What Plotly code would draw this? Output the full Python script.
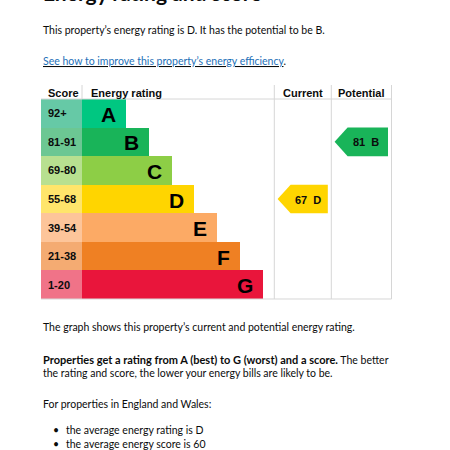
import plotly.graph_objects as go

# ---- data ----
bands = ["A", "B", "C", "D", "E", "F", "G"]
score_ranges = ["92+", "81-91", "69-80", "55-68", "39-54", "21-38", "1-20"]
band_colors = ["#00c781", "#19b459", "#8dce46", "#ffd500", "#fcaa65", "#ef8023", "#e9153b"]
score_tints = ["#66c9a6", "#6cc793", "#b8e090", "#ffe56b", "#fdc59a", "#f4ab72", "#f07388"]
bar_lengths = [44, 67, 90, 112, 135, 158, 181]
current_score = 67
current_band = "D"
potential_score = 81
potential_band = "B"
columns = ["Score", "Energy rating", "Current", "Potential"]

# ---- layout geometry (pixel space) ----
W = H = 450
tbl_left = 41
score_right = 82
head_top = 85
head_bot = 99
row_h = 28.57
cur_l, cur_r = 274.3, 331.3
pot_l, pot_r = 331.3, 391.5
grid_col = "#d6d6d6"
txt_col = "#0b0c0c"
body_font = "Lato"
chart_font = "Liberation Sans"

row_top = [head_bot + i * row_h for i in range(len(bands))]
row_mid = [t + row_h / 2 for t in row_top]
tbl_bot = row_top[-1] + row_h

fig = go.Figure()
ann = []

def t(x, y, text, size=10.5, family=body_font, color=txt_col, xanchor="left", yshift=0):
    ann.append(dict(x=x, y=y, text=text, showarrow=False, xanchor=xanchor, yanchor="middle",
                    xref="x", yref="y", yshift=yshift,
                    font=dict(family=family, size=size, color=color)))

# score cells
fig.add_trace(go.Bar(
    orientation="h", y=row_mid, x=[score_right - tbl_left] * len(bands), base=tbl_left,
    width=row_h, marker=dict(color=score_tints, line=dict(width=0)), hoverinfo="skip",
))
# rating bars
fig.add_trace(go.Bar(
    orientation="h", y=row_mid, x=bar_lengths, base=score_right,
    width=row_h, marker=dict(color=band_colors, line=dict(width=0)), hoverinfo="skip",
))

def band_of(score):
    lows = [92, 81, 69, 55, 39, 21, 1]
    for i, lo in enumerate(lows):
        if score >= lo:
            return i
    return len(lows) - 1

def arrow(col_l, col_r, score, band):
    i = band_of(score)
    top, bot, mid = row_top[i], row_top[i] + row_h, row_mid[i]
    tip = col_l + 3.3
    right = col_r - 3.5
    body = tip + 13
    xs = [tip, body, right, right, body, tip]
    ys = [mid, top, top, bot, bot, mid]
    fig.add_trace(go.Scatter(x=xs, y=ys, fill="toself", fillcolor=band_colors[i],
                             line=dict(width=0), mode="lines", hoverinfo="skip"))
    t((body + right) / 2 - 1.5, mid + 0.5, f"<b>{score}  {band}</b>", size=11,
      family=chart_font, xanchor="center")

arrow(cur_l, cur_r, current_score, current_band)
arrow(pot_l, pot_r, potential_score, potential_band)

shapes = []
for xv in [score_right, cur_l, cur_r, pot_r]:
    y1 = head_bot if xv == score_right else tbl_bot
    shapes.append(dict(type="line", x0=xv, x1=xv, y0=head_top, y1=y1, xref="x", yref="y",
                       line=dict(color=grid_col, width=1)))
shapes.append(dict(type="line", x0=tbl_left, x1=pot_r, y0=head_bot, y1=head_bot,
                   xref="x", yref="y", line=dict(color=grid_col, width=1)))
shapes.append(dict(type="line", x0=tbl_left, x1=pot_r, y0=tbl_bot, y1=tbl_bot,
                   xref="x", yref="y", line=dict(color=grid_col, width=1)))

# header
t(46, 92.5, "<b>" + columns[0] + "</b>", size=11, family=chart_font)
t(89, 92.5, "<b>" + columns[1] + "</b>", size=11, family=chart_font)
t((cur_l + cur_r) / 2, 92.5, "<b>" + columns[2] + "</b>", size=11, family=chart_font, xanchor="center")
t((pot_l + pot_r) / 2, 92.5, "<b>" + columns[3] + "</b>", size=11, family=chart_font, xanchor="center")

for i, b in enumerate(bands):
    t(46, row_mid[i], "<b>" + score_ranges[i] + "</b>", size=11, family=chart_font)
    t(score_right + bar_lengths[i] - 8, row_mid[i] + 1, "<b>" + b + "</b>", size=21,
      family=chart_font, color="#000000", xanchor="right")

# page text
t(41, 0.5, "<b>Energy rating and score</b>", size=21, yshift=8)
t(41, 29.5, "This property’s energy rating is D. It has the potential to be B.")
t(41, 61, "<u><span style='color:#1d70b8'>See how to improve this property’s energy efficiency</span></u>.")
t(41, 327, "The graph shows this property’s current and potential energy rating.")
t(41, 359, "<b><span style='font-size:11px'>Properties get a rating from A (best) to G (worst) and a score.</span></b> The better")
t(41, 373, "the rating and score, the lower your energy bills are likely to be.")
t(41, 404, "For properties in England and Wales:")
t(51, 430, "•")
t(64, 430, "the average energy rating is D")
t(51, 444, "•")
t(64, 444, "the average energy score is 60")

fig.update_layout(
    width=W, height=H, margin=dict(l=0, r=0, t=0, b=0),
    paper_bgcolor="white", plot_bgcolor="white", showlegend=False,
    barmode="overlay", bargap=0,
    xaxis=dict(range=[0, W], visible=False, fixedrange=True),
    yaxis=dict(range=[H, 0], visible=False, fixedrange=True),
    shapes=shapes, annotations=ann,
)
fig.write_html("out.html", config={"displayModeBar": False},
               post_script="document.body.style.margin='0';document.body.style.padding='0';document.body.style.overflow='hidden';")
